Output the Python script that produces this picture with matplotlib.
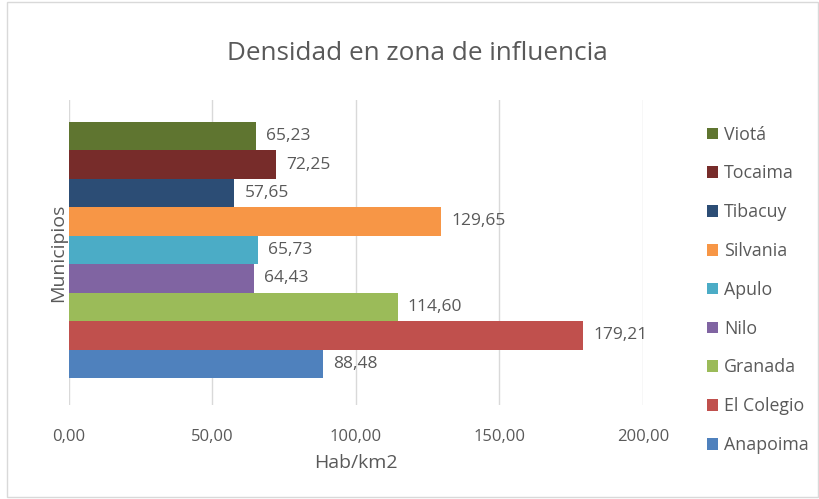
import matplotlib
matplotlib.use("Agg")
import matplotlib.pyplot as plt
from matplotlib.patches import Rectangle

municipios = ["Anapoima", "El Colegio", "Granada", "Nilo", "Apulo",
              "Silvania", "Tibacuy", "Tocaima", "Viotá"]
densidad = [88.48, 179.21, 114.60, 64.43, 65.73, 129.65, 57.65, 72.25, 65.23]
colores = ["#4F81BD", "#C0504D", "#9BBB59", "#8064A2", "#4BACC6",
           "#F79646", "#2C4D75", "#772C2A", "#5F7530"]
x_ticks = [0, 50, 100, 150, 200]

TXT = "#595959"
plt.rcParams["font.family"] = ["Open Sans", "DejaVu Sans"]

fig = plt.figure(figsize=(8.2, 4.99), dpi=100)
ax = fig.add_axes([0.0841, 0.1884, 0.7000, 0.6112])

handles = []
for i, (name, val, col) in enumerate(zip(municipios, densidad, colores)):
    h = ax.barh(i, val, height=1.0, color=col, label=name)
    handles.append(h)
    ax.text(val + 3.5, i, f"{val:.2f}".replace(".", ","), va="center",
            ha="left", fontsize=12.5, color=TXT)

ax.set_xlim(0, 200)
ax.set_ylim(-1.45, 9.27)
ax.set_xticks(x_ticks)
ax.set_xticklabels([f"{t:.2f}".replace(".", ",") for t in x_ticks],
                   fontsize=12, color=TXT)
ax.set_yticks([])
ax.tick_params(axis="x", length=0, pad=17)
ax.grid(axis="x", color="#D9D9D9", lw=1)
ax.set_axisbelow(True)
for s in ax.spines.values():
    s.set_visible(False)

ax.set_xlabel("Hab/km2", fontsize=14, color=TXT, labelpad=7)
ax.set_ylabel("Municipios", fontsize=14, color=TXT, labelpad=1)
fig.text(0.509, 0.893, "Densidad en zona de influencia", ha="center",
         va="center", fontsize=18.8, color=TXT)

leg = fig.legend(handles[::-1], municipios[::-1], loc="upper left",
                 bbox_to_anchor=(0.851, 0.766), frameon=False, fontsize=12.8,
                 labelspacing=1.17, handlelength=0.62, handleheight=0.62,
                 handletextpad=0.35, borderpad=0)
for t in leg.get_texts():
    t.set_color(TXT)

fig.patches.append(Rectangle((0.008, 0.004), 0.99, 0.992, transform=fig.transFigure,
                             fill=False, edgecolor="#D9D9D9", lw=1))

fig.savefig("out.png", dpi=100)
